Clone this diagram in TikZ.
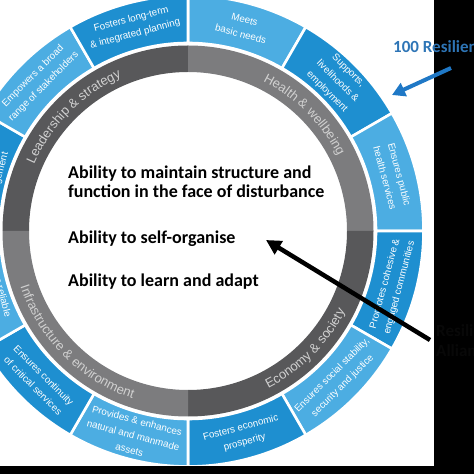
\documentclass[tikz,border=0pt]{standalone}
\usepackage{fontspec}
\setmainfont{Liberation Sans}
\newfontfamily\calib{Carlito}
\usetikzlibrary{decorations.text,arrows.meta}
\definecolor{bdark}{HTML}{1E8FD0}
\definecolor{blight}{HTML}{4CADE2}
\definecolor{gdark}{HTML}{58585A}
\definecolor{glight}{HTML}{7C7C7E}
\definecolor{gtext}{HTML}{D0D0D0}
\definecolor{rcblue}{HTML}{2E75B6}
\definecolor{arrblue}{HTML}{1F78C6}
\definecolor{hidtext}{HTML}{080808}
\newcommand{\ringsector}[5]{\path[#5] (#1:#3) arc[start angle=#1,end angle=#2,radius=#3pt] -- (#2:#4) arc[start angle=#2,end angle=#1,radius=#4pt] -- cycle;}
\tikzset{
  segtext/.style={text=white, font=\fontsize{9.8}{15}\selectfont, align=center, inner sep=0pt},
  ability/.style={font=\calib\bfseries\fontsize{18}{20}\selectfont, anchor=base west, inner sep=0pt},
  sidetext/.style={font=\calib\bfseries\fontsize{17}{20}\selectfont, anchor=base west, inner sep=0pt},
  ringlabel/.style={decorate, decoration={text along path, text align=center, text color=gtext, text={|\fontsize{13}{14}\selectfont|#1}}},
}
\begin{document}
\begin{tikzpicture}[x=1pt,y=1pt]
\useasboundingbox (0,0) rectangle (474,474);
\clip (0,0) rectangle (474,474);
\fill[white] (0,0) rectangle (474,474);
\begin{scope}[shift={(188,243)}]
  % grey quadrants
  \ringsector{90}{180}{159}{185.5}{fill=gdark}
  \ringsector{0}{90}{159}{185.5}{fill=glight}
  \ringsector{-90}{0}{159}{185.5}{fill=gdark}
  \ringsector{-180}{-90}{159}{185.5}{fill=glight}
  % blue segments
  \foreach \s/\e/\col in {60/90/blight,30/60/bdark,0/30/blight,-30/0/bdark,-60/-30/blight,-90/-60/bdark,-120/-90/blight,-150/-120/bdark,-180/-150/blight,150/180/bdark,120/150/blight,90/120/bdark}
    {\ringsector{\s}{\e}{188}{235.5}{fill=\col, draw=white, line width=2.6pt}}
  % ring labels
  \path[ringlabel={Leadership {\&} strategy}] (180:167.5) arc[start angle=180,end angle=90,radius=167.5pt];
  \path[ringlabel={Health {\&} wellbeing}] (90:167.5) arc[start angle=90,end angle=0,radius=167.5pt];
  \path[ringlabel={Economy {\&} society}] (-90:176.5) arc[start angle=-90,end angle=0,radius=176.5pt];
  \path[ringlabel={Infrastructure {\&} environment}] (-180:176.5) arc[start angle=-180,end angle=-90,radius=176.5pt];
  % segment texts
  \node[segtext, rotate=-15] (g1) at (75:211.5) {Meets\\basic needs};
  \node[segtext, rotate=-45] (g2) at (45:211.5) {Supports,\\livelihoods \&\\employment};
  \node[segtext, rotate=-75] (g3) at (15:211.5) {Ensures public\\health services};
  \node[segtext, rotate=75] (g4) at (-15:211.5) {Promotes cohesive \&\\engaged communities};
  \node[segtext, rotate=45] (g5) at (-45:211.5) {Ensures social stability,\\security and justice};
  \node[segtext, rotate=15] (g6) at (-75:211.5) {Fosters economic\\prosperity};
  \node[segtext, rotate=-15] (g7) at (-105:211.5) {Provides \& enhances\\natural and manmade\\assets};
  \node[segtext, rotate=-45] (g8) at (-135:211.5) {Ensures continuity\\of critical services};
  \node[segtext, rotate=-75] (g9) at (-165:211.5) {Provides reliable\\communication\\and mobility};
  \node[segtext, rotate=75] (g10) at (165:211.5) {Promotes leadership\\and effective\\management};
  \node[segtext, rotate=45] (g11) at (135:211.5) {Empowers a broad\\range of stakeholders};
  \node[segtext, rotate=15] (g12) at (105:211.5) {Fosters long-term\\\& integrated planning};
\end{scope}
% central abilities
\node[ability] (ab1a) at (68,295) {Ability to maintain structure and};
\node[ability] (ab1b) at (68,276) {function in the face of disturbance};
\node[ability] (ab2) at (68,230) {Ability to self-organise};
\node[ability] (ab3) at (68,187) {Ability to learn and adapt};
% black frame areas
\fill[black] (434,0) rectangle (474,474);
\fill[black] (0,0) rectangle (474,8);
% side texts
\node[sidetext, text=rcblue] (rc) at (393,421) {100 Resilient Cities};
\node[sidetext, text=hidtext] (ra1) at (436,137) {Resilience};
\node[sidetext, text=hidtext] (ra2) at (436,117) {Alliance};
% arrows
\coordinate (btail) at (451,406);
\coordinate (btip) at (392,379);
\coordinate (ktail) at (430,134);
\coordinate (ktip) at (266,234);
\draw[arrblue, line width=4pt, -{Triangle[length=13pt,width=14pt]}] (btail) -- (btip);
\draw[black, line width=4.5pt, -{Triangle[length=15pt,width=15pt]}] (ktail) -- (ktip);
\end{tikzpicture}
\end{document}
